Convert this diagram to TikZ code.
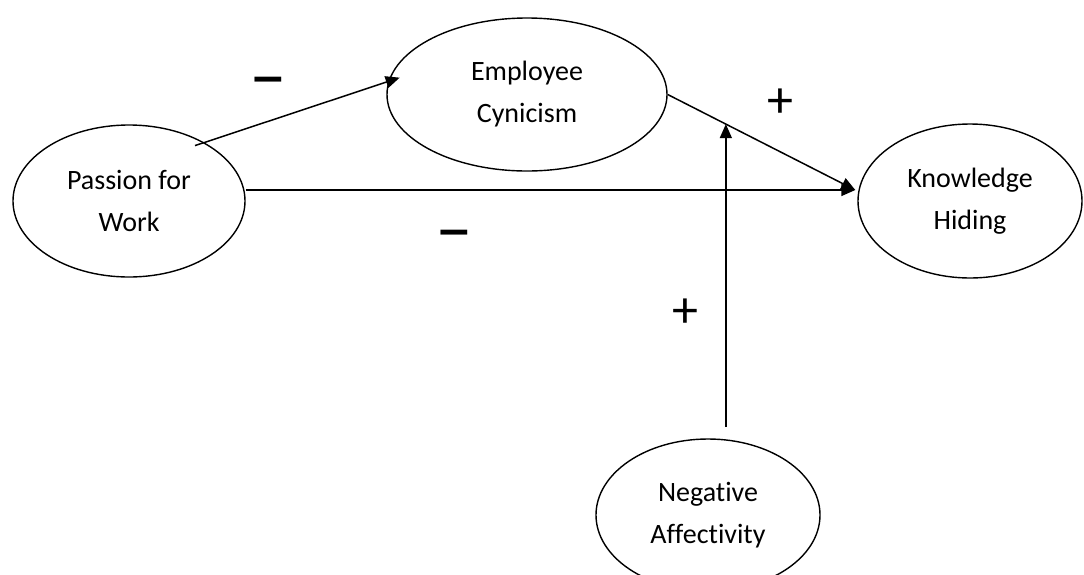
\documentclass[tikz,border=0pt]{standalone}
\usepackage{fontspec}
\setmainfont[Ligatures=NoCommon]{Carlito}
\usetikzlibrary{shapes.geometric,arrows.meta,calc}
\begin{document}
\begin{tikzpicture}[x=1pt,y=-1pt,
  var/.style={draw,ellipse,line width=1.4pt,inner sep=0pt,align=center,
    font=\fontsize{28}{42}\selectfont},
  arr/.style={line width=1.5pt,-{Triangle[length=14pt,width=12pt]}},
  sign/.style={font=\fontsize{56}{56}\selectfont\bfseries,inner sep=0pt}]
\useasboundingbox (0,0) rectangle (1084,574);
\clip (0,0) rectangle (1084,574);
\node[var,minimum width=232pt,minimum height=152pt] (pw) at (129,201) {Passion for\\Work};
\node[var,minimum width=280pt,minimum height=153pt] (ec) at (527,94.5) {Employee\\Cynicism};
\node[var,minimum width=224pt,minimum height=154pt] (kh) at (970,201) {Knowledge\\Hiding};
\node[var,minimum width=224pt,minimum height=152pt] (na) at (708,515) {Negative\\Affectivity};
\coordinate (khin) at ([yshift=11pt,xshift=-2pt]kh.west);
\coordinate (pwout) at ([yshift=11pt]pw.east);
\coordinate (pwup) at ($(pw.40)+(-6,5)$);
\coordinate (ecin) at ($(ec.173)+(10,0)$);
\path (ec.east) -- (khin) coordinate[pos=0.31] (mod);
\coordinate (y427) at (0,427);
\coordinate (nastart) at (mod |- y427);
\draw[arr] (pwup) -- (ecin);
\draw[arr] (pwout) -- (khin);
\draw[arr] (ec.east) -- (khin);
\draw[arr] (nastart) -- (mod);
\node[sign] (s1) at (268,86) {\scalebox{1.35}[1]{–}};
\node[sign] (s2) at (454,239) {\scalebox{1.35}[1]{–}};
\node[sign,font=\fontsize{52}{52}\selectfont] (s3) at (780,103) {+};
\node[sign,font=\fontsize{52}{52}\selectfont] (s4) at (685,313) {+};
\end{tikzpicture}
\end{document}
